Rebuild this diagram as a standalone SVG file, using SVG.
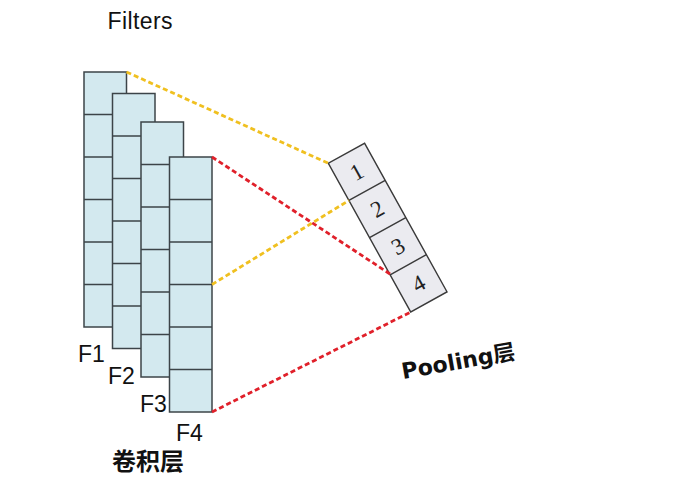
<svg xmlns="http://www.w3.org/2000/svg" width="692" height="483" viewBox="0 0 692 483">
<style>
.col{fill:#d3e9ef;stroke:#3c4448;stroke-width:1.5}
.div{stroke:#3c4448;stroke-width:1.5}
.pool{fill:#ebebf0;stroke:#3a3a3a;stroke-width:1.4}
.num{font-family:"Liberation Serif","Times New Roman",serif;font-size:23px;fill:#222;text-anchor:middle}
.lbl{font-family:"Liberation Sans",Arial,sans-serif;font-size:23px;fill:#111}
.cjk{font-family:"Liberation Sans","Noto Sans CJK SC",sans-serif;font-weight:bold;fill:#111}
.y{stroke:#f0c020;stroke-width:2.8;stroke-dasharray:5 3;fill:none}
.r{stroke:#e0202a;stroke-width:2.8;stroke-dasharray:5 3;fill:none}
</style>
<rect width="692" height="483" fill="#fff"/>
<g id="F1">
<rect class="col" x="84" y="72" width="42.5" height="255"/>
<path class="div" d="M84 114.5h42.5M84 157h42.5M84 199.5h42.5M84 242h42.5M84 284.5h42.5"/>
</g>
<g id="F2">
<rect class="col" x="112.5" y="93.5" width="42.5" height="255"/>
<path class="div" d="M112.5 136h42.5M112.5 178.5h42.5M112.5 221h42.5M112.5 263.5h42.5M112.5 306h42.5"/>
</g>
<g id="F3">
<rect class="col" x="141" y="122" width="42.5" height="255"/>
<path class="div" d="M141 164.5h42.5M141 207h42.5M141 249.5h42.5M141 292h42.5M141 334.5h42.5"/>
</g>
<g id="F4">
<rect class="col" x="169.5" y="157" width="42.5" height="255"/>
<path class="div" d="M169.5 199.5h42.5M169.5 242h42.5M169.5 284.5h42.5M169.5 327h42.5M169.5 369.5h42.5"/>
</g>
<g id="pooling" transform="translate(328.3,163.3) rotate(-29)">
<rect class="pool" x="0" y="0" width="41.5" height="170"/>
<path class="div" style="stroke:#3a3a3a;stroke-width:1.4" d="M0 42.5h41.5M0 85h41.5M0 127.5h41.5"/>
<text class="num" x="20.75" y="29">1</text>
<text class="num" x="20.75" y="71.5">2</text>
<text class="num" x="20.75" y="114">3</text>
<text class="num" x="20.75" y="156.5">4</text>
</g>
<g id="connectors">
<line class="y" x1="126.5" y1="72" x2="328.3" y2="163.3"/>
<line class="y" x1="212" y1="284.5" x2="348.9" y2="200.4"/>
<line class="r" x1="212" y1="157" x2="390.8" y2="274.5"/>
<line class="r" x1="212" y1="412" x2="410.7" y2="312"/>
</g>
<g id="labels">
<text class="lbl" x="107.5" y="29" textLength="65">Filters</text>
<text class="lbl" x="78" y="361.5">F1</text>
<text class="lbl" x="108" y="383.5">F2</text>
<text class="lbl" x="140" y="411.5">F3</text>
<text class="lbl" x="176" y="440.5">F4</text>
<text class="cjk" x="112" y="469.5" style="font-size:24px">卷积层</text>
<text class="cjk" x="403" y="379" style="font-size:22px;font-family:'DejaVu Sans','Noto Sans CJK SC',sans-serif" textLength="115" transform="rotate(-10 403 379)">Pooling层</text>
</g>
</svg>
